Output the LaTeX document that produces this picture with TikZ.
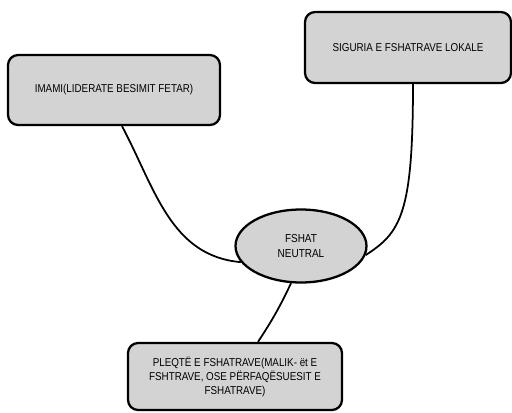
\documentclass[tikz,border=0pt]{standalone}
\usepackage{fontspec}
\setmainfont{Liberation Sans}[FakeStretch=0.86]
\usepackage{tikz}
\usetikzlibrary{shapes.geometric}
\definecolor{boxgray}{RGB}{211,211,211}
\tikzset{box/.style = {draw, line width = 1.3pt, fill = boxgray, rounded corners = 0.2cm, align = center, font = \fontsize{6.5}{8}\selectfont},
         hub/.style = {draw, line width = 1.3pt, fill = boxgray, ellipse, inner sep = 0, align = center, font = \fontsize{6.6}{9}\selectfont},
         link/.style = {line width = 1pt}}

\begin{document}
\begin{tikzpicture}[x = 0.02cm, y = -0.02cm]
          \useasboundingbox (0, 0) rectangle (512, 413);

          \node [box, minimum width = 4.24cm, minimum height = 1.4cm] (imami) at (114, 90) {IMAMI(LIDERATE BESIMIT FETAR)};
          \node [box, minimum width = 4.12cm, minimum height = 1.42cm] (siguria) at (408, 47.5) {SIGURIA E FSHATRAVE LOKALE};
          \node [hub, minimum width = 2.62cm, minimum height = 1.46cm] (fshat) at (301, 246) {FSHAT\\NEUTRAL};
          \node [box, minimum width = 4.28cm, minimum height = 1.34cm] (pleqte) at (235, 376.5) {PLEQTË E FSHATRAVE(MALIK- ët E\\FSHTRAVE, OSE PËRFAQËSUESIT E\\FSHATRAVE)};

          \draw [link] ([xshift = 0.16cm] imami.south) to [out = -62, in = 175] (fshat.195);
          \draw [link] ([xshift = 0.1cm] siguria.south) .. controls +(0, -2.6cm) and +(0.7cm, 0.45cm) .. (fshat.-8);
          \draw [link] (fshat.255) to [bend left = 4] ([xshift = 0.46cm] pleqte.north);
        \end{tikzpicture}
\end{document}
